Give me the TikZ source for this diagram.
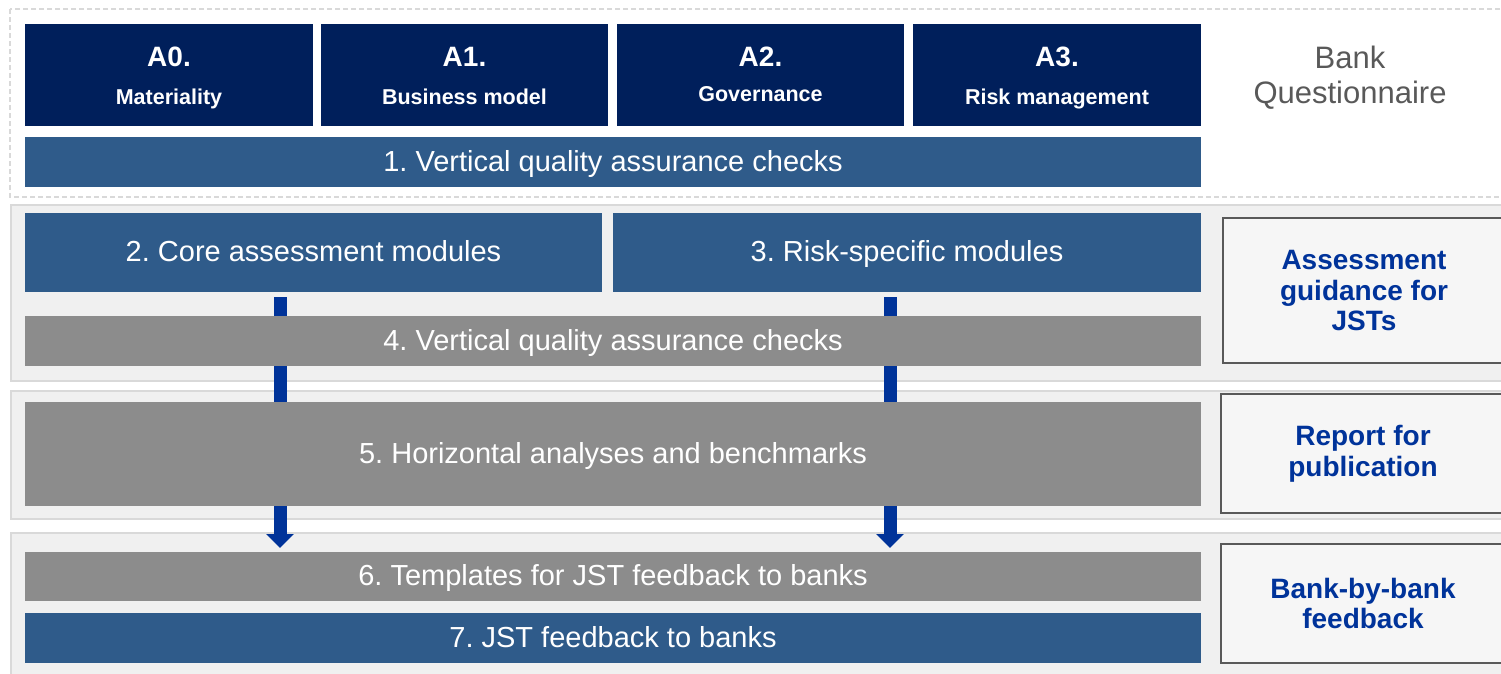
\documentclass[tikz,border=0pt]{standalone}
\usepackage{fontspec}
\setmainfont{Liberation Sans}
\usetikzlibrary{arrows.meta}
\definecolor{navy}{HTML}{001F5B}
\definecolor{midblue}{HTML}{2F5B8A}
\definecolor{boxgray}{HTML}{8C8C8C}
\definecolor{bandfill}{HTML}{F0F0F0}
\definecolor{bandline}{HTML}{D9D9D9}
\definecolor{labblue}{HTML}{00339A}
\definecolor{arrblue}{HTML}{003399}
\definecolor{qgray}{HTML}{595959}
\pgfdeclarelayer{bands}
\pgfdeclarelayer{arrows}
\pgfsetlayers{bands,arrows,main}
\frenchspacing
\begin{document}
\frenchspacing
\begin{tikzpicture}[x=1pt,y=-1pt,
  every node/.style={inner sep=0pt, outer sep=0pt},
  abox/.style={fill=navy, minimum height=102pt},
  bluebox/.style={fill=midblue, text=white, text height=18pt, text depth=0pt,
    font=\fontsize{29}{32}\selectfont},
  graybox/.style={fill=boxgray, text=white, text height=18pt, text depth=0pt,
    font=\fontsize{29}{32}\selectfont},
  atitle/.style={anchor=base, text=white, font=\fontsize{28}{32}\selectfont\bfseries},
  asub/.style={anchor=base, text=white, font=\fontsize{21.5}{24}\selectfont\bfseries},
  band/.style={fill=bandfill, draw=bandline, line width=2pt},
  sidebox/.style={fill=bandfill!60!white, draw=qgray, line width=1.5pt, text=labblue, align=center,
    font=\fontsize{28}{30.5}\selectfont\bfseries},
  flow/.style={draw=arrblue, line width=13pt, shorten <=5pt, shorten >=4pt,
    -{Triangle[width=27pt,length=14pt]}}
]
\useasboundingbox (0,0) rectangle (1501,673);

% bands
\begin{pgfonlayer}{bands}
  \draw[draw=bandline, line width=1.5pt, dash pattern=on 5pt off 3pt] (10,9) rectangle (1515,197);
  \draw[band] (11,205) rectangle (1515,381);
  \draw[band] (11,391) rectangle (1515,519);
  \draw[band] (11,533) rectangle (1515,690);
\end{pgfonlayer}

% top row
\node[abox, minimum width=288pt] (a0) at (169,75) {};
\node[abox, minimum width=287pt] (a1) at (464.5,75) {};
\node[abox, minimum width=287pt] (a2) at (760.5,75) {};
\node[abox, minimum width=288pt] (a3) at (1057,75) {};
\node[atitle] (a0t) at ([yshift=-42.7pt]a0.north) {A0.};
\node[asub]   (a0s) at ([yshift=-80pt]a0.north) {Materiality};
\node[atitle] (a1t) at ([yshift=-42.7pt]a1.north) {A1.};
\node[asub]   (a1s) at ([yshift=-80pt]a1.north) {Business model};
\node[atitle] (a2t) at ([yshift=-42.7pt]a2.north) {A2.};
\node[asub]   (a2s) at ([yshift=-77pt]a2.north) {Governance};
\node[atitle] (a3t) at ([yshift=-42.7pt]a3.north) {A3.};
\node[asub]   (a3s) at ([yshift=-80pt]a3.north) {Risk management};

\node[align=center, text=qgray, font=\fontsize{31}{34.5}\selectfont] (bq) at (1350,77.5) {Bank\\Questionnaire};

\node[bluebox, minimum width=1176pt, minimum height=50pt] (vqa1) at (613,162) {1. Vertical quality assurance checks};

% second band
\node[bluebox, minimum width=577pt, minimum height=79pt] (core) at (313.5,252.5) {2. Core assessment modules};
\node[bluebox, minimum width=588pt, minimum height=79pt] (risk) at (907,252.5) {3. Risk-specific modules};
\node[graybox, minimum width=1176pt, minimum height=50pt] (vqa2) at (613,341) {4. Vertical quality assurance checks};

% third band
\node[graybox, minimum width=1176pt, minimum height=104pt] (horiz) at (613,454) {5. Horizontal analyses and benchmarks};

% fourth band
\node[graybox, minimum width=1176pt, minimum height=49pt] (tmpl) at (613,576.5) {6. Templates for JST feedback to banks};
\node[bluebox, minimum width=1176pt, minimum height=50pt] (fb) at (613,638) {7. JST feedback to banks};

% side labels
\node[sidebox, minimum width=282pt, minimum height=145pt] (sg) at (1364,290.5) {Assessment\\guidance for\\JSTs};
\node[sidebox, minimum width=284pt, minimum height=119pt] (sr) at (1363,453.5) {Report for\\publication};
\node[sidebox, minimum width=284pt, minimum height=119pt] (sb) at (1363,603.5) {Bank-by-bank\\feedback};

% arrows
\coordinate (arrL) at (280,0);
\coordinate (arrR) at (890,0);
\begin{pgfonlayer}{arrows}
  \draw[flow] (core.south -| arrL) -- (tmpl.north -| arrL);
  \draw[flow] (risk.south -| arrR) -- (tmpl.north -| arrR);
\end{pgfonlayer}
\end{tikzpicture}
\end{document}
